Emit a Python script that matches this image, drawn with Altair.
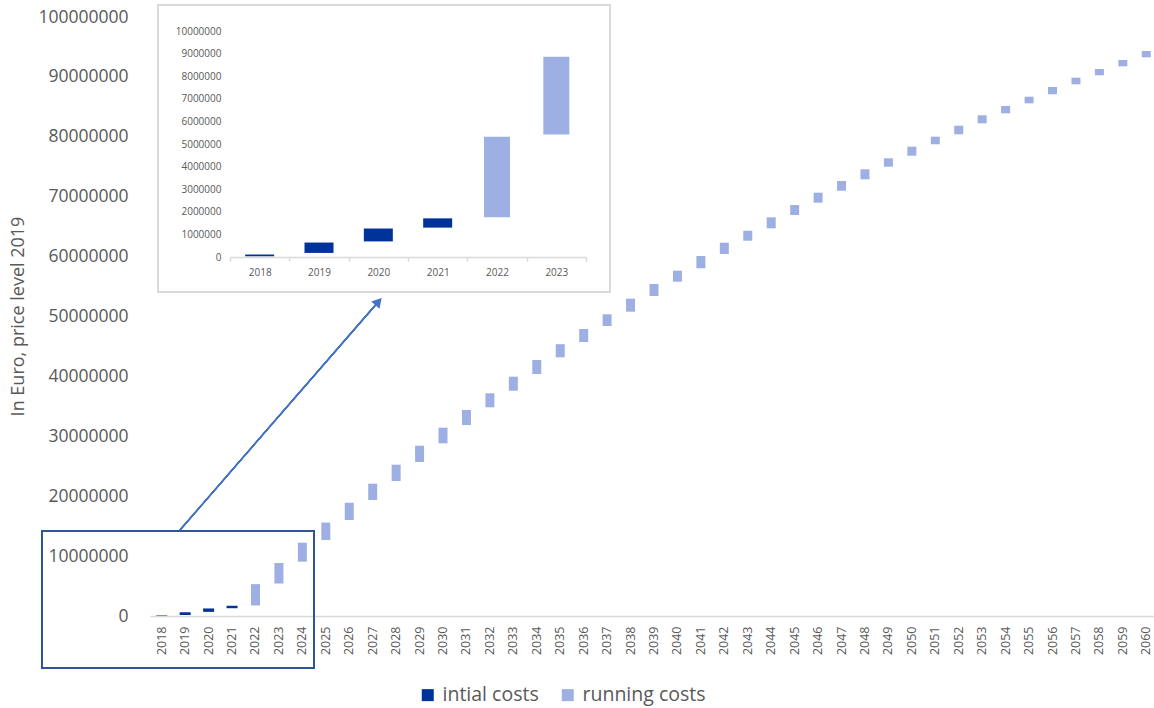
import altair as alt
import pandas as pd

# ---------------- data ----------------
years = [str(y) for y in range(2018, 2061)]
cost_type = ["intial costs"] * 4 + ["running costs"] * 39
# floating bars (waterfall): lower and upper edge, in million Euro
bar_start_m = [0.03, 0.18, 0.69, 1.30,
               1.76, 5.42, 9.07, 12.69, 16.03, 19.37, 22.54, 25.71, 28.83, 31.89,
               34.84, 37.61, 40.40, 43.19, 45.74, 48.41, 50.80, 53.42, 55.81, 58.05,
               60.43, 62.65, 64.72, 66.94, 69.00, 71.00, 72.90, 75.01, 76.85, 78.75,
               80.42, 82.25, 83.92, 85.59, 87.10, 88.76, 90.27, 91.77, 93.27]
bar_end_m = [0.11, 0.64, 1.26, 1.71,
             5.32, 8.86, 12.24, 15.60, 18.91, 22.09, 25.26, 28.43, 31.44, 34.39,
             37.18, 39.95, 42.74, 45.38, 47.91, 50.37, 52.97, 55.43, 57.65, 60.10,
             62.32, 64.32, 66.56, 68.61, 70.67, 72.62, 74.57, 76.41, 78.35, 80.02,
             81.85, 83.59, 85.14, 86.69, 88.31, 89.87, 91.32, 92.82, 94.32]

inset_years = years[:6]

y_ticks = list(range(0, 100_000_001, 10_000_000))
inset_ticks = list(range(0, 10_000_001, 1_000_000))
types = ["intial costs", "running costs"]
colors = ["#003399", "#9EAFE4"]

df = pd.DataFrame({
    "year": years,
    "type": cost_type,
    "start": [v * 1e6 for v in bar_start_m],
    "end": [v * 1e6 for v in bar_end_m],
})
df_inset = df[df["year"].isin(inset_years)].reset_index(drop=True)

GRAY = "#595959"
LINE = "#D9D9D9"

# ---------------- main chart ----------------
base = alt.Chart(df).encode(
    x=alt.X("year:N", sort=years,
            scale=alt.Scale(domain=years, paddingInner=0, paddingOuter=0, range=[0, 1008]),
            axis=alt.Axis(title=None, labelAngle=270, labelFontSize=12.5, labelColor=GRAY,
                          ticks=False, tickSize=0, labelPadding=10, domainColor=LINE,
                          domainWidth=1.5, grid=False, orient="bottom")),
    y=alt.Y("start:Q",
            scale=alt.Scale(domain=[0, 100_000_000], nice=False),
            axis=alt.Axis(title="In Euro, price level 2019", values=y_ticks, format="d",
                          labelFontSize=17.5, labelColor=GRAY, labelPadding=22,
                          ticks=False, domain=False, grid=False, orient="left",
                          titleFontSize=18, titleFontWeight="normal", titleColor=GRAY,
                          titleAngle=270, titleX=-132, titleY=299,
                          titleBaseline="middle", titleAlign="center")),
    y2="end:Q",
    color=alt.Color("type:N", scale=alt.Scale(domain=types, range=colors),
                    legend=alt.Legend(title=None, orient="none", legendX=268, legendY=668,
                                      direction="horizontal", symbolType="square",
                                      symbolSize=144, symbolStrokeWidth=0,
                                      labelFontSize=19.5, labelColor=GRAY,
                                      labelOffset=5, columnPadding=19)),
)
main = alt.layer(
    base.transform_filter(alt.datum.type == "intial costs").mark_bar(size=11),
    base.transform_filter(alt.datum.type == "running costs").mark_bar(size=9),
)

# ---------------- inset ----------------
inset_bg = alt.Chart(df_inset).mark_rect(fill="white", stroke=LINE, strokeWidth=2).encode(
    x=alt.value(8), x2=alt.value(460), y=alt.value(-12), y2=alt.value(275)
)

ibase = alt.Chart(df_inset).encode(
    x=alt.X("year:N", sort=inset_years,
            scale=alt.Scale(domain=inset_years, paddingInner=0, paddingOuter=0, range=[80, 436]),
            axis=alt.Axis(title=None, labelAngle=0, labelFontSize=10, labelColor=GRAY,
                          tickBand="extent", ticks=True, tickSize=4, tickColor=LINE,
                          tickWidth=1.5, labelPadding=6, domainColor=LINE, domainWidth=1.5,
                          grid=False, orient="bottom", offset=-359, zindex=2)),
    y=alt.Y("start:Q",
            scale=alt.Scale(domain=[0, 10_000_000], nice=False, range=[240, 14]),
            axis=alt.Axis(title=None, values=inset_ticks, format="d", labelFontSize=10,
                          labelColor=GRAY, labelPadding=4, ticks=False, domain=False,
                          grid=False, orient="left", offset=-75, zindex=2)),
    y2="end:Q",
    color=alt.Color("type:N", scale=alt.Scale(domain=types, range=colors), legend=None),
)
inset = alt.layer(
    ibase.transform_filter(alt.datum.type == "intial costs").mark_bar(size=29),
    ibase.transform_filter(alt.datum.type == "running costs").mark_bar(size=26),
)

# ---------------- annotations ----------------
box = alt.Chart(df_inset).mark_rect(fill="transparent", stroke="#2F5597", strokeWidth=2).encode(
    x=alt.value(-108), x2=alt.value(164), y=alt.value(514), y2=alt.value(651)
)
arrow = alt.Chart(df_inset).mark_rule(color="#4472C4", strokeWidth=1.3).encode(
    x=alt.value(30), y=alt.value(513), x2=alt.value(229), y2=alt.value(284)
)
head = alt.Chart(pd.DataFrame({"a": [0]})).mark_point(
    shape="triangle-up", filled=True, size=120, angle=41, color="#4472C4", opacity=1
).encode(x=alt.value(228.5), y=alt.value(284.5))

chart = alt.layer(main, inset_bg, inset, box, arrow, head).resolve_scale(
    x="independent", y="independent"
).properties(
    width=1004, height=599,
    padding={"left": 150, "top": 17, "right": 0, "bottom": 92},
    autosize=alt.AutoSizeParams(type="none"),
).configure(font="Open Sans").configure_view(strokeWidth=0)

chart.save("out.html", embed_options={"renderer": "svg", "actions": False})
